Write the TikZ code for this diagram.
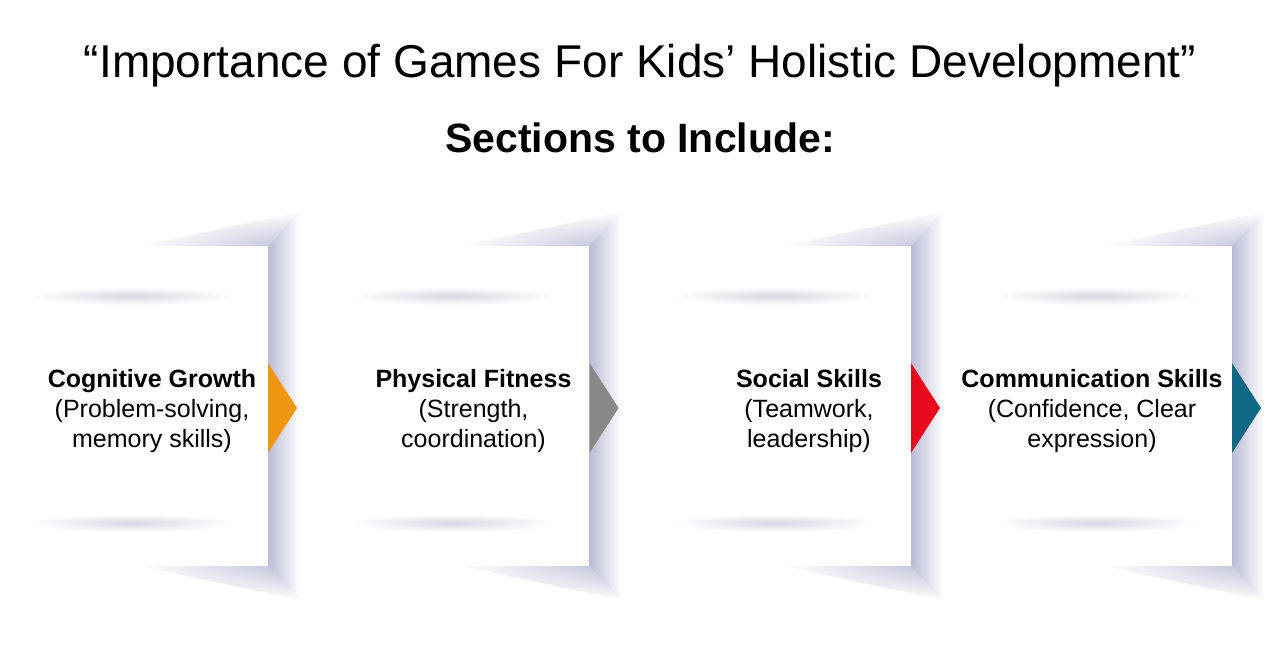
\documentclass[tikz,border=0pt]{standalone}
\usepackage{fontspec}
\setmainfont{Liberation Sans}
\usetikzlibrary{fadings}
\definecolor{shadowc}{RGB}{186,188,213}
\definecolor{foldc}{RGB}{214,215,227}
\definecolor{cOrange}{RGB}{238,150,14}
\definecolor{cGrey}{RGB}{136,136,136}
\definecolor{cRed}{RGB}{230,10,28}
\definecolor{cTeal}{RGB}{16,104,132}
\tikzset{
  bodytext/.style={align=center, inner sep=0pt, font=\fontsize{25}{30}\selectfont},
}
\begin{document}
\begin{tikzpicture}[x=1pt,y=-1pt]
\fill[white] (0,0) rectangle (1280,649);
\useasboundingbox (0,0) rectangle (1280,649);
% soft fold shadows (drawn first)
\foreach \e in {268,589.5,911,1232} {
  \shade[inner color=foldc, outer color=white] ({\e-136},296) ellipse (102 and 9);
  \shade[inner color=foldc, outer color=white] ({\e-136},523) ellipse (102 and 9);
}
% panel edge shadows and arrow tips
\foreach \e/\c/\n in {268/cOrange/1, 589.5/cGrey/2, 911/cRed/3, 1232/cTeal/4} {
  \shade[left color=shadowc, right color=white] (\e,246) -- (\e,566) -- ({\e+32},600) -- ({\e+32},212) -- cycle;
  \shade[left color=white, right color=shadowc, path fading=north] ({\e-128},246) -- (\e,246) -- ({\e+32},212) -- cycle;
  \shade[left color=white, right color=shadowc, path fading=south] ({\e-128},566) -- (\e,566) -- ({\e+32},600) -- cycle;
  \fill[\c] (\e,363) -- ({\e+29},408) -- (\e,453) -- cycle;
  \coordinate (tip\n) at ({\e+29},408);
}
\node[anchor=base, inner sep=0pt, font=\fontsize{46}{50}\selectfont] (title) at (640,77) {“Importance of Games For Kids’ Holistic Development”};
\node[anchor=base, inner sep=0pt, font=\fontsize{41}{45}\selectfont\bfseries] (subtitle) at (640,152) {Sections to Include:};
\node[bodytext] (t1) at (152,411) {\textbf{Cognitive Growth}\\(Problem-solving,\\memory skills)};
\node[bodytext] (t2) at (473.5,411) {\textbf{Physical Fitness}\\(Strength,\\coordination)};
\node[bodytext] (t3) at (809,411) {\textbf{Social Skills}\\(Teamwork,\\leadership)};
\node[bodytext] (t4) at (1092,411) {\textbf{Communication Skills}\\(Confidence, Clear\\expression)};
\end{tikzpicture}
\end{document}
